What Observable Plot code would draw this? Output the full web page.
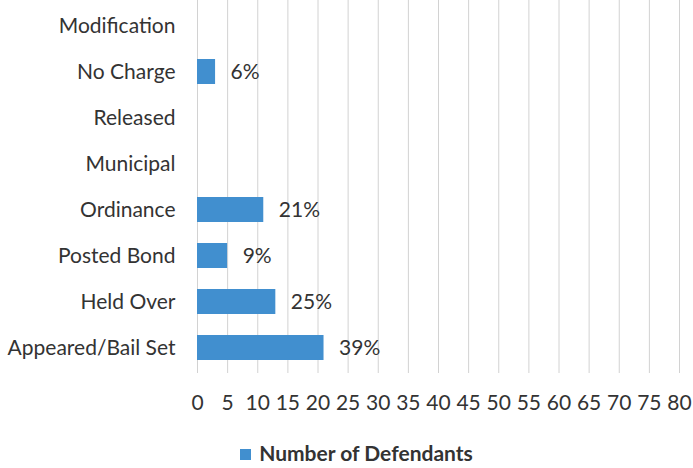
<!DOCTYPE html>
<html>
<head>
<meta charset="utf-8">
<script src="https://cdn.jsdelivr.net/npm/d3@7"></script>
<script src="https://cdn.jsdelivr.net/npm/@observablehq/plot@0.6"></script>
<style>
  body { margin: 0; background: #fff; font-family: Lato, "Open Sans", sans-serif; }
  #legend { width: 693px; height: 26px; line-height: 26px; text-align: center; font-weight: bold; font-size: 21px; color: #333; padding-left: 20px; box-sizing: border-box; }
  #legend .sw { display: inline-block; width: 11px; height: 11px; background: #418fcf; margin-right: 8px; vertical-align: middle; position: relative; top: -1px; }
</style>
</head>
<body>
<div id="chart"></div>
<div id="legend"><span class="sw"></span>Number of Defendants</div>
<script>
const categories = ["Modification", "No Charge", "Released", "Municipal", "Ordinance", "Posted Bond", "Held Over", "Appeared/Bail Set"];
const values = [null, 3, null, null, 11, 5, 13, 21];
const pctLabels = ["", "6%", "", "", "21%", "9%", "25%", "39%"];
const xTicks = [0, 5, 10, 15, 20, 25, 30, 35, 40, 45, 50, 55, 60, 65, 70, 75, 80];

const data = categories.map((c, i) => ({category: c, value: values[i], label: pctLabels[i]}));
const bars = data.filter(d => d.value != null);

const chart = Plot.plot({
  width: 693,
  height: 440,
  marginLeft: 197,
  marginRight: 14,
  marginTop: 0,
  marginBottom: 67,
  style: {fontFamily: "Lato, 'Open Sans', sans-serif", fontSize: "21px", color: "#333", background: "#fff"},
  x: {domain: [0, 80], ticks: xTicks, label: null},
  y: {domain: categories, paddingInner: 0.45, paddingOuter: 0.225, label: null},
  marks: [
    Plot.gridX(xTicks, {stroke: "#d2d2d2", strokeOpacity: 1}),
    Plot.barX(bars, {y: "category", x: "value", fill: "#418fcf"}),
    Plot.text(bars, {y: "category", x: "value", text: "label", dx: 15, textAnchor: "start", fontSize: 21, fill: "#333"}),
    Plot.axisX({ticks: xTicks, tickSize: 0, tickPadding: 22, label: null, fontSize: 21}),
    Plot.axisY({tickSize: 0, tickPadding: 22, label: null, fontSize: 21})
  ]
});
document.getElementById("chart").appendChild(chart);
</script>
</body>
</html>
